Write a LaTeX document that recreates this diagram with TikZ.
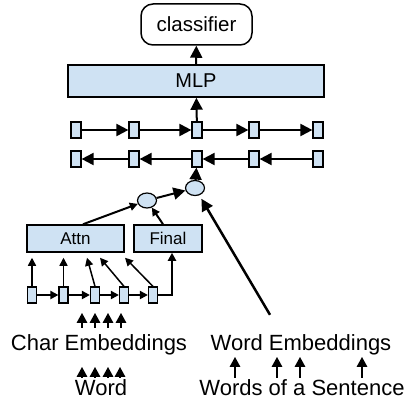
\documentclass[tikz,border=0pt]{standalone}
\usepackage{fontspec}
\setmainfont{Liberation Sans}
\usetikzlibrary{arrows.meta,shapes.geometric}
\definecolor{cellblue}{RGB}{207,226,243}
\tikzset{
  arr/.style={-{Triangle[length=12pt,width=12pt]}, line width=2pt},
  thinarr/.style={-{Triangle[length=8pt,width=8pt]}, line width=1.5pt},
  inarr/.style={-{Triangle[length=10pt,width=10pt]}, line width=2.5pt},
  cell/.style={draw, line width=1.2pt, fill=cellblue, minimum width=10pt, minimum height=16pt, inner sep=0pt},
  bar/.style={draw, line width=1.5pt, fill=cellblue, inner sep=0pt},
  dot/.style={draw, ellipse, line width=1.2pt, fill=cellblue, minimum width=19pt, minimum height=15pt, inner sep=0pt},
  lbl/.style={inner sep=0pt, text height=16pt, text depth=4pt, font=\fontsize{22}{24}\selectfont}
}
\begin{document}
\begin{tikzpicture}[x=1pt, y=-1pt]
  \useasboundingbox (0,0) rectangle (409,401);
  \node [draw, line width=1.5pt, rounded corners=12pt, minimum width=111pt, minimum height=41pt,
    font=\fontsize{20.5}{22}\selectfont] (cls) at (196.5,24.5) {classifier};
  \node [bar, minimum width=256pt, minimum height=32pt, font=\fontsize{20}{22}\selectfont] (mlp) at (196,81) {MLP};
  \foreach \i/\x in {1/76, 2/134, 3/197, 4/254, 5/318}{
    \node [cell] (f\i) at (\x,130) {};
    \node [cell] (b\i) at (\x,159) {};
  }
  \foreach \i/\j in {1/2, 2/3, 3/4, 4/5}{
    \draw [arr] (f\i) -- (f\j);
    \draw [arr] (b\j) -- (b\i);
  }
  \draw [arr] (f3) -- (mlp);
  \draw [arr] (mlp) -- (cls);
  \node [dot] (top) at (195,188) {};
  \node [dot] (mix) at (147,200.5) {};
  \draw [arr] (top) -- (b3);
  \draw [arr] (mix) -- (top);
  \node [bar, minimum width=97pt, minimum height=27pt, font=\fontsize{17}{19}\selectfont] (attn) at (75.5,238.5) {Attn};
  \node [bar, minimum width=68pt, minimum height=27pt, font=\fontsize{17}{19}\selectfont] (fin) at (168,238.5) {Final};
  \draw [thinarr, line width=2pt] ([xshift=7.5pt]attn.north) -- (mix);
  \draw [thinarr, line width=2pt] ([xshift=-5pt]fin.north) -- (mix);
  \foreach \i/\x in {1/32, 2/63.5, 3/95, 4/124, 5/153}{
    \node [cell, minimum width=9pt] (c\i) at (\x,295) {};
  }
  \foreach \i/\j in {1/2, 2/3, 3/4, 4/5}{
    \draw [thinarr, line width=2pt] (c\i) -- (c\j);
  }
  \draw [thinarr, line width=2pt] (c5.east) -| ([xshift=4pt]fin.south);
  \foreach \i/\d in {1/-43.5, 2/-12, 3/11.5, 4/24.5, 5/49.5}{
    \draw [thinarr] (c\i.north) -- ([xshift=\d pt, yshift=-5pt]attn.south);
  }
  \node [lbl] (charemb) at (99,344) {Char Embeddings};
  \node [lbl] (wordemb) at (301,344) {Word Embeddings};
  \node [lbl] (word) at (101,389) {Word};
  \node [lbl] (sent) at (302,389) {Words of a Sentence};
  \foreach \d in {-17, -4, 9, 22}{
    \draw [inarr] ([xshift=\d pt, yshift=6pt]charemb.north) -- ++(0,-15);
  }
  \foreach \d in {-19, -6, 7, 19}{
    \draw [inarr] ([xshift=\d pt, yshift=1pt]word.north) -- ++(0,-11);
  }
  \foreach \d in {-67, -25, -2, 60}{
    \draw [inarr] ([xshift=\d pt, yshift=1pt]sent.north) -- ++(0,-21);
  }
  \draw [arr, line width=2.5pt, shorten >=4pt] ([xshift=-31pt, yshift=19pt]wordemb.north) -- (top);
\end{tikzpicture}
\end{document}
